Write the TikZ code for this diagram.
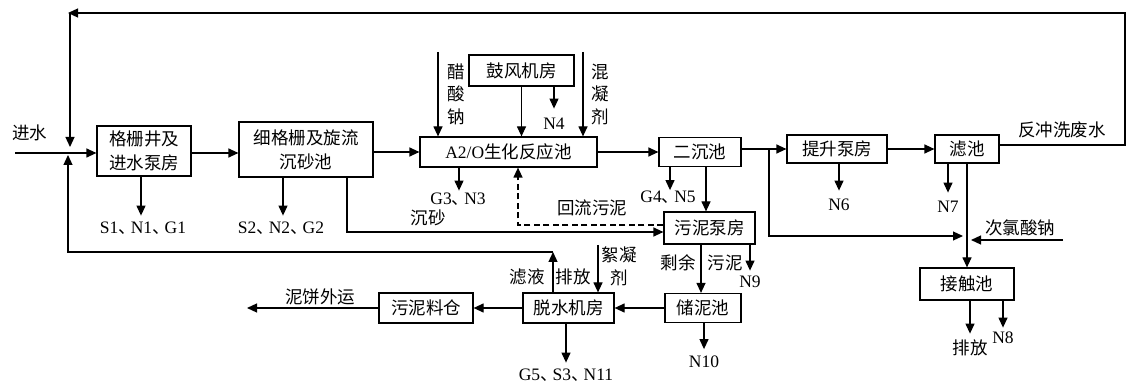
\documentclass[tikz,border=0pt]{standalone}
\usepackage{fontspec}
\setmainfont{Liberation Serif}
\newfontfamily\cjk{Noto Sans CJK SC}
\usetikzlibrary{arrows.meta}
\newcommand\dun{{\cjk 、}\kern-5pt}
\begin{document}
\begin{tikzpicture}[x=1pt,y=-1pt,
  box/.style={draw, line width=1.2pt, inner sep=0pt, align=center, font=\cjk\fontsize{17.5}{24}\selectfont},
  lbl/.style={inner sep=0pt, align=center, font=\cjk\fontsize{17.5}{23}\selectfont},
  nl/.style={inner sep=0pt, font=\fontsize{17.5}{20}\selectfont},
  ln/.style={line width=1.2pt},
  flow/.style={line width=1.2pt, -{Triangle[length=10pt,width=9pt]}}]
\useasboundingbox (0,0) rectangle (1132,387);

% boxes
\node[box, minimum width=94pt, minimum height=50pt] (b1) at (144,151) {格栅井及\\进水泵房};
\node[box, minimum width=134pt, minimum height=55pt] (b2) at (306,149.5) {细格栅及旋流\\沉砂池};
\node[box, minimum width=177pt, minimum height=30pt] (b3) at (508.5,152) {{\rmfamily A2/O}生化反应池};
\node[box, minimum width=105pt, minimum height=31pt] (b4) at (521.5,70.5) {鼓风机房};
\node[box, minimum width=82pt, minimum height=29pt] (b5) at (700,152) {二沉池};
\node[box, minimum width=100pt, minimum height=28pt] (b6) at (837,149) {提升泵房};
\node[box, minimum width=64pt, minimum height=28pt] (b7) at (967,149) {滤池};
\node[box, minimum width=94pt, minimum height=32pt] (b8) at (967,284) {接触池};
\node[box, minimum width=91pt, minimum height=32pt] (b9) at (709.5,228) {污泥泵房};
\node[box, minimum width=76pt, minimum height=29pt] (b10) at (703,308) {储泥池};
\node[box, minimum width=91pt, minimum height=30pt] (b11) at (568.5,308) {脱水机房};
\node[box, minimum width=94pt, minimum height=30pt] (b12) at (426,308) {污泥料仓};

% labels
\node[lbl] (t1) at (30,133) {进水};
\node[lbl] (t2) at (1062,130) {反冲洗废水};
\node[nl] (t3) at (143,228) {S1\dun N1\dun G1};
\node[nl] (t4) at (281,228) {S2\dun N2\dun G2};
\node[lbl] (t5) at (428,218) {沉砂};
\node[lbl, font=\cjk\fontsize{17.5}{22.5}\selectfont] (t6) at (456,94) {醋\\酸\\钠};
\node[nl] (t7) at (554,124) {N4};
\node[lbl, font=\cjk\fontsize{17.5}{22.5}\selectfont] (t8) at (600,94) {混\\凝\\剂};
\node[nl] (t9) at (458,199) {G3\dun N3};
\node[lbl] (t10) at (592,208) {回流污泥};
\node[nl] (t11) at (668,197) {G4\dun N5};
\node[nl] (t12) at (839,205) {N6};
\node[nl] (t13) at (948,207) {N7};
\node[lbl] (t14) at (1020,228) {次氯酸钠};
\node[lbl] (t15) at (970,348) {排放};
\node[nl] (t16) at (1003,338) {N8};
\node[lbl] (t17) at (678,263) {剩余};
\node[lbl] (t18) at (725,263) {污泥};
\node[nl] (t19) at (750,282) {N9};
\node[nl] (t20) at (704,362) {N10};
\node[lbl] (t21) at (527,277) {滤液};
\node[lbl] (t22) at (573,277) {排放};
\node[lbl] (t23) at (619,266) {絮凝\\剂};
\node[lbl] (t24) at (320,297) {泥饼外运};
\node[nl] (t25) at (566,375) {G5\dun S3\dun N11};

% coordinates
\coordinate (in0) at (15,153);
\coordinate (m1) at (0,153);
\coordinate (jd) at (70,147);
\coordinate (ju) at (68,155);
\coordinate (tl) at (68,13);
\coordinate (tlv) at (70,13);
\coordinate (tr) at (1125,13);
\coordinate (rb) at (1125,145);
\coordinate (fl) at (553,252);
\coordinate (bl) at (68,252);
\coordinate (cs) at (438,52);
\coordinate (hn) at (583,52);
\coordinate (br) at (769,149);
\coordinate (bd) at (769,236);
\coordinate (jr) at (963,236);
\coordinate (nc) at (1063,240);
\coordinate (jl) at (971,240);
\coordinate (out) at (247,308);
\coordinate (xn) at (598,245);

% main flow
\draw[flow] (in0) -- (in0 -| b1.west);
\draw[flow] (b1.east |- m1) -- (b2.west |- m1);
\draw[flow] (b2.east |- b3) -- (b3.west);
\draw[flow] (b3.east) -- (b5.west);
\draw[flow] (b5.east |- b6) -- (b6.west);
\draw[flow] (b6.east) -- (b7.west);
\draw[flow] (b7.south) -- (b8.north);

% returns
\draw[flow] (b7.east |- rb) -- (rb) -- (tr) -- (tl);
\draw[flow] (tlv) -- (jd);
\draw[flow] (b11.north -| fl) -- (fl);
\draw[flow] (fl) -- (bl) -- (ju);

% outputs
\draw[flow] ([xshift=-3]b1.south) -- ++(0,39);
\draw[flow] ([xshift=-23]b2.south) -- ++(0,38);
\draw[flow] ([xshift=41]b2.south) |- ([yshift=-4]b9.west);
\draw[flow] (cs) -- (cs |- b3.north);
\draw[flow] (b4.south) -- (b4.south |- b3.north);
\draw[flow] ([xshift=32.5]b4.south) -- ++(0,22);
\draw[flow] (hn) -- (hn |- b3.north);
\draw[flow] ([xshift=-49.5]b3.south) -- ++(0,23);
\draw[flow, dash pattern=on 6pt off 3.5pt] ([yshift=3]b9.west) -| ([xshift=9.5]b3.south);
\draw[flow] ([xshift=-30]b5.south) -- ++(0,23);
\draw[flow] ([xshift=6]b5.south) -- ([xshift=6]b5.south |- b9.north);
\draw[flow] (br) -- (bd) -- (jr);
\draw[flow] (nc) -- (jl);
\draw[flow] ([xshift=2]b6.south) -- ++(0,27);
\draw[flow] ([xshift=-19]b7.south) -- ++(0,29);
\draw[flow] ([xshift=3]b8.south) -- ++(0,33);
\draw[flow] ([xshift=36]b8.south) -- ++(0,27);
\draw[flow] ([xshift=-8.5]b9.south) -- ([xshift=-8.5]b9.south |- b10.north);
\draw[flow] ([xshift=40.5]b9.south) -- ++(0,26);
\draw[flow] ([xshift=1]b10.south) -- ++(0,26);
\draw[flow] (b10.west) -- (b11.east);
\draw[flow] (b11.west) -- (b12.east);
\draw[flow] (b12.west) -- (out);
\draw[flow] (xn) -- (xn |- b11.north);
\draw[flow] ([xshift=-2.5]b11.south) -- ++(0,39);
\end{tikzpicture}
\end{document}
